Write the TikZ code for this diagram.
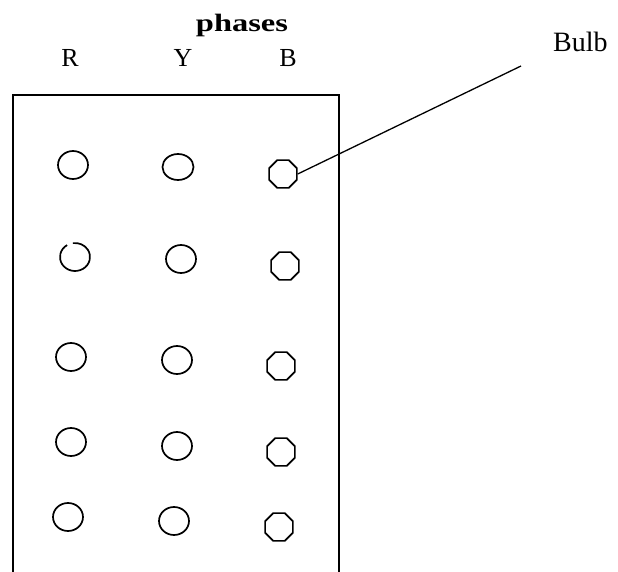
\documentclass[tikz,border=0pt]{standalone}
\usepackage{fontspec}
\setmainfont{Liberation Serif}
\usetikzlibrary{shapes.geometric}
\begin{document}
\begin{tikzpicture}[x=1pt,y=-1pt,
  bulb/.style={draw, line width=1.7pt, ellipse, inner sep=0pt, minimum width=30pt, minimum height=28pt},
  oct/.style={draw, line width=1.7pt, regular polygon, regular polygon sides=8, inner sep=0pt, minimum size=30pt},
  phaselbl/.style={font=\fontsize{26}{26}\selectfont, anchor=base, inner sep=0pt},
  toplbl/.style={font=\bfseries\fontsize{25}{25}\selectfont, anchor=base, inner sep=0pt},
  bulblbl/.style={font=\fontsize{28}{28}\selectfont, anchor=base west, inner sep=0pt},
  frame/.style={line width=2pt},
  leader/.style={line width=1.3pt}]
\useasboundingbox (0,0) rectangle (618,572);
% panel
\draw[frame] (13,574) -- (13,95) -- (339,95) -- (339,574);
% labels
\node[toplbl] (ph) at (242,32) {\scalebox{1.3}[1]{phases}};
\node[phaselbl] (lR) at (70,67) {R};
\node[phaselbl] (lY) at (183,67) {Y};
\node[phaselbl] (lB) at (288,67) {B};
\node[bulblbl] (bulbtxt) at (553,52) {Bulb};
% row 1
\node[bulb] (r1) at (73,165) {};
\node[bulb, minimum width=31pt, minimum height=26pt] (y1) at (178,167) {};
\node[oct] (b1) at (283,174) {};
% row 2
\node[inner sep=0pt, minimum width=30pt, minimum height=28pt] (r2) at (75,257) {};
\draw[line width=1.7pt] (r2.center) ++(122:15pt and 14pt) arc[start angle=122, end angle=458, x radius=15pt, y radius=14pt];
\node[bulb] (y2) at (181,259) {};
\node[oct] (b2) at (285,266) {};
% row 3
\node[bulb] (r3) at (71,357) {};
\node[bulb] (y3) at (177,360) {};
\node[oct] (b3) at (281,366) {};
% row 4
\node[bulb] (r4) at (71,442) {};
\node[bulb] (y4) at (177,446) {};
\node[oct] (b4) at (281,452) {};
% row 5
\node[bulb] (r5) at (68,517) {};
\node[bulb] (y5) at (174,521) {};
\node[oct] (b5) at (279,527) {};
% leader
\coordinate (lend) at (521,66);
\draw[leader] (b1.east) -- (lend);
\end{tikzpicture}
\end{document}
